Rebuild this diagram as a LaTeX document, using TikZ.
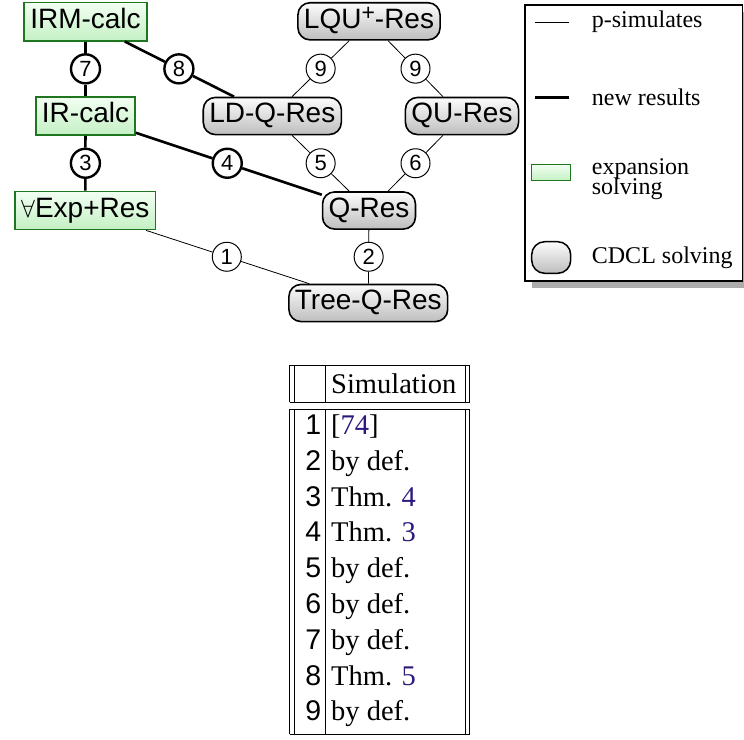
\documentclass[tikz,border=0pt]{standalone}
\usepackage{fontspec}
\setmainfont{Liberation Serif}
\setsansfont{Liberation Sans}
\usetikzlibrary{calc}

\definecolor{expborder}{RGB}{30,118,30}
\definecolor{exptop}{RGB}{242,255,242}
\definecolor{expbot}{RGB}{196,240,196}
\definecolor{cdcltop}{RGB}{252,252,252}
\definecolor{cdclbot}{RGB}{190,190,190}
\definecolor{reflink}{RGB}{45,25,125}

\newcommand{\supplus}{\raisebox{8pt}{\fontsize{23}{23}\selectfont +}}

\tikzset{
  sysfont/.style={font=\sffamily\fontsize{28}{31}\selectfont},
  expnode/.style={draw=expborder, line width=1.6pt, top color=exptop, bottom color=expbot,
    text height=19.5pt, text depth=6pt, inner xsep=6pt, inner ysep=6.3pt, sysfont},
  cdclnode/.style={draw=black, line width=1.6pt, rounded corners=12pt, top color=cdcltop,
    bottom color=cdclbot, text height=19.5pt, text depth=6pt, inner xsep=6pt, inner ysep=5.8pt, sysfont},
  numcirc/.style={circle, draw, fill=white, minimum size=29pt, inner sep=0pt,
    font=\sffamily\fontsize{22}{22}\selectfont},
  psim/.style={line width=0.8pt},
  newres/.style={line width=2.6pt},
  legtext/.style={anchor=base west, inner sep=0pt, font=\rmfamily\fontsize{24}{17}\selectfont, align=left},
  tabrule/.style={line width=0.8pt},
  tabnum/.style={anchor=base east, inner sep=0pt, font=\sffamily\fontsize{28.5}{30}\selectfont},
  tabtext/.style={anchor=base west, inner sep=0pt, font=\rmfamily\fontsize{28.5}{30}\selectfont},
}

\begin{document}
\begin{tikzpicture}[x=1pt, y=-1pt]
\useasboundingbox (0,0) rectangle (744,739);

% proof systems
\node[expnode]  (irm)  at (85.5,21.7)  {IRM-calc};
\node[expnode]  (ir)   at (85.5,116)   {IR-calc};
\node[expnode]  (exp)  at (85.3,210.5) {$\forall$Exp+Res};
\node[cdclnode] (lqu)  at (369,21.3)   {LQU\supplus-Res};
\node[cdclnode] (ldq)  at (272.3,116)  {LD-Q-Res};
\node[cdclnode] (qu)   at (462,116)    {QU-Res};
\node[cdclnode] (qres) at (369,210.5)  {Q-Res};
\node[cdclnode] (tree) at (368.3,303)  {Tree-Q-Res};

% simulation labels, halfway between the systems they relate
\node[numcirc, line width=2.4pt] (c7) at ($(irm)!0.5!(ir)$)   {7};
\node[numcirc, line width=2.4pt] (c8) at ($(irm)!0.5!(ldq)$)  {8};
\node[numcirc, line width=2.4pt] (c3) at ($(ir)!0.5!(exp)$)   {3};
\node[numcirc, line width=2.4pt] (c4) at ($(ir)!0.5!(qres)$)  {4};
\node[numcirc, line width=1pt] (c1)   at ($(exp)!0.5!(tree)$) {1};
\node[numcirc, line width=1pt] (c9a)  at ($(lqu)!0.5!(ldq)$)  {9};
\node[numcirc, line width=1pt] (c9b)  at ($(lqu)!0.5!(qu)$)   {9};
\node[numcirc, line width=1pt] (c5)   at ($(ldq)!0.5!(qres)$) {5};
\node[numcirc, line width=1pt] (c6)   at ($(qu)!0.5!(qres)$)  {6};
\node[numcirc, line width=1pt] (c2)   at ($(qres)!0.5!(tree)$) {2};

% new results
\draw[newres] (irm) -- (c7) -- (ir);
\draw[newres] (irm) -- (c8) -- (ldq);
\draw[newres] (ir) -- (c3) -- (exp);
\draw[newres] (ir) -- (c4) -- (qres);
% known p-simulations
\draw[psim] (exp) -- (c1) -- (tree);
\draw[psim] (lqu) -- (c9a) -- (ldq);
\draw[psim] (lqu) -- (c9b) -- (qu);
\draw[psim] (ldq) -- (c5) -- (qres);
\draw[psim] (qu) -- (c6) -- (qres);
\draw[psim] (qres) -- (c2) -- (tree);

% legend
\fill[gray!65] (531.7,12) rectangle (752,288);
\draw[line width=1.5pt, fill=white] (525,5) rectangle (742.6,281);
\draw[psim] (535,22.7) -- (569.3,22.7);
\node[legtext] (lpsim) at (591.7,27) {p-simulates};
\draw[newres] (535,97.3) -- (569.3,97.3);
\node[legtext] (lnew) at (591.7,105) {new results};
\draw[draw=expborder, line width=1.4pt, top color=exptop, bottom color=expbot]
  (531.7,164.3) rectangle (570.7,180.7);
\node[legtext] (lexp) at (591.7,194.5) {expansion\\[-3pt]solving};
\draw[line width=1.5pt, rounded corners=13pt, top color=cdcltop, bottom color=cdclbot]
  (531.7,241.7) rectangle (570.7,273.3);
\node[legtext] (lcdcl) at (591.7,263.3) {CDCL solving};

% table of simulations
\foreach \yt/\yb in {365/402.3, 409/734} {
  \draw[tabrule] (289.5,\yt) -- (469.5,\yt);
  \draw[tabrule] (289.5,\yb) -- (469.5,\yb);
  \foreach \xv in {289.5,294,325.5,465,469.5}
    \draw[tabrule] (\xv,\yt) -- (\xv,\yb);
}
\node[tabtext] (thead) at (331,393.3) {Simulation};
\foreach \n/\txt [count=\i from 0] in {
    1/{[\textcolor{reflink}{74}]},
    2/{by def.},
    3/{Thm. \textcolor{reflink}{4}},
    4/{Thm. \textcolor{reflink}{3}},
    5/{by def.},
    6/{by def.},
    7/{by def.},
    8/{Thm. \textcolor{reflink}{5}},
    9/{by def.}} {
  \node[tabnum]  (num\n) at (321.5,434.5+35.8*\i) {\n};
  \node[tabtext] (why\n) at (331,434.5+35.8*\i) {\txt};
}
\end{tikzpicture}
\end{document}
